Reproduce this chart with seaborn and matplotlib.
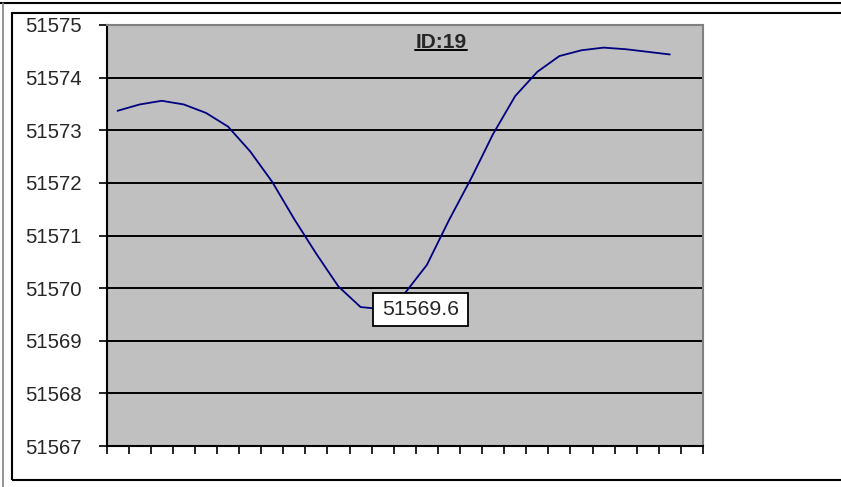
import numpy as np
import pandas as pd
import matplotlib
matplotlib.use("Agg")
import matplotlib.pyplot as plt
from matplotlib.patches import Rectangle
from matplotlib.lines import Line2D
import seaborn as sns

# values (27 category slots, last one empty)
positions = list(range(26))
values = [51573.37, 51573.49, 51573.56, 51573.49, 51573.33, 51573.07,
          51572.60, 51572.02, 51571.31, 51570.65, 51570.03, 51569.64,
          51569.60, 51569.90, 51570.44, 51571.29, 51572.08, 51572.93,
          51573.65, 51574.11, 51574.41, 51574.52, 51574.57, 51574.54,
          51574.49, 51574.44]
n_slots = 27
y_ticks = [51567, 51568, 51569, 51570, 51571, 51572, 51573, 51574, 51575]
title_text = "ID:19"
min_label = "51569.6"

df = pd.DataFrame({"pos": positions, "value": values})

sns.set_style("white")
plt.rcParams["font.family"] = ["Liberation Sans", "DejaVu Sans"]

fig = plt.figure(figsize=(8.41, 4.87), dpi=100)
ax = fig.add_axes([106.5 / 841, 41 / 487, (703 - 106.5) / 841, (446 - 25) / 487])
ax.set_facecolor("#C0C0C0")

sns.lineplot(data=df, x="pos", y="value", ax=ax, color="#000080", linewidth=1.3)

ax.set_xlim(-0.5, n_slots - 0.5)
ax.set_ylim(y_ticks[0], y_ticks[-1])
ax.set_yticks(y_ticks)
ax.set_yticklabels([str(v) for v in y_ticks], fontsize=14.7)
ax.set_xticks(np.arange(n_slots + 1) - 0.5)
ax.set_xticklabels([])
ax.set_xlabel("")
ax.set_ylabel("")

ax.grid(axis="y", color="black", linewidth=1.4)
ax.grid(axis="x", visible=False)
ax.set_axisbelow(True)
ax.tick_params(axis="both", direction="out", length=6, width=1.2, color="black",
               left=True, bottom=True)
ax.tick_params(axis="y", pad=12)

for side in ["left", "bottom"]:
    ax.spines[side].set_color("black")
    ax.spines[side].set_linewidth(1.5)
for side in ["top", "right"]:
    ax.spines[side].set_color("#808080")
    ax.spines[side].set_linewidth(1.5)

# data label for the minimum
lbl = ax.text(13.73, 51569.60, min_label, ha="center", va="center", fontsize=15.3, zorder=6)

# underlined bold title inside plot
t = fig.text(441 / 841, 1 - 42 / 487, title_text, ha="center", va="center",
             fontsize=15, fontweight="bold")

fig.canvas.draw()
W, H = fig.bbox.width, fig.bbox.height

bb = t.get_window_extent()
uy = (bb.y0 + 1.5) / H
fig.add_artist(Line2D([bb.x0 / W, bb.x1 / W], [uy, uy],
                      transform=fig.transFigure, color="black", linewidth=1.4))

lb = lbl.get_window_extent()
cx, cy = (lb.x0 + lb.x1) / 2, (lb.y0 + lb.y1) / 2
bw, bh = lb.width + 18, 33
fig.add_artist(Rectangle(((cx - bw / 2) / W, (cy - bh / 2) / H), bw / W, bh / H,
                         transform=fig.transFigure, facecolor="white",
                         edgecolor="black", linewidth=1.3, zorder=5))
lbl.remove()
fig.text(cx / W, cy / H, min_label, ha="center", va="center", fontsize=15.3, zorder=6)

# chart area frames
fig.add_artist(Rectangle((12 / 841, 7 / 487), (845 - 12) / 841, (480 - 13) / 487,
                         transform=fig.transFigure, fill=False, edgecolor="black", linewidth=1.5))
fig.add_artist(Line2D([0, 1], [1 - 3 / 487, 1 - 3 / 487], transform=fig.transFigure,
                      color="black", linewidth=1.5))
fig.add_artist(Line2D([3 / 841, 3 / 841], [0, 1 - 3 / 487], transform=fig.transFigure,
                      color="#808080", linewidth=1.2))

fig.savefig("out.png", dpi=100, facecolor="white")
